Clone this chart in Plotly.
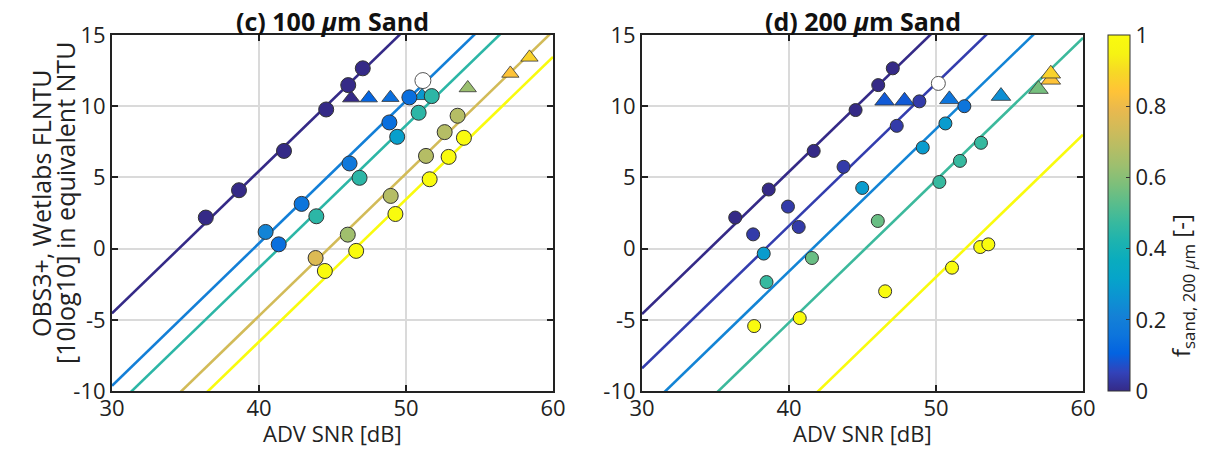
import plotly.graph_objects as go
from plotly.colors import sample_colorscale

# ---------------- data ----------------
# Panel (c) 100 um sand
c_circ_x = [36.38, 38.64, 41.70, 44.57, 46.07, 47.06,
            40.45, 41.34, 42.90, 46.16, 48.87, 49.40, 50.23,
            43.90, 46.84, 50.86, 51.75,
            43.85, 46.04, 48.96, 51.36, 52.63, 53.51,
            44.48, 46.61, 49.28, 51.61, 52.90, 53.94]
c_circ_y = [2.18, 4.10, 6.86, 9.77, 11.48, 12.66,
            1.17, 0.30, 3.14, 5.98, 8.86, 7.85, 10.62,
            2.27, 4.97, 9.54, 10.71,
            -0.66, 0.98, 3.70, 6.51, 8.18, 9.33,
            -1.57, -0.16, 2.43, 4.87, 6.44, 7.78]
c_circ_f = [0, 0, 0, 0, 0, 0,
            0.22, 0.14, 0.16, 0.17, 0.14, 0.30, 0.14,
            0.45, 0.45, 0.45, 0.45,
            0.76, 0.64, 0.68, 0.68, 0.68, 0.68,
            1, 1, 1, 1, 1, 1]
c_tri_x = [46.27, 47.47, 48.94, 51.09, 54.20, 57.10, 58.40]
c_tri_y = [10.57, 10.57, 10.60, 10.73, 11.28, 12.30, 13.43]
c_tri_f = [0.0, 0.11, 0.14, 0.28, 0.63, 0.84, 0.88]
c_open_x = [51.15]
c_open_y = [11.80]
c_line_icpt = [-34.55, -39.63, -41.35, -44.73, -46.54]
c_line_f = [0.0, 0.2, 0.45, 0.74, 1.0]

# Panel (d) 200 um sand
d_circ_x = [36.34, 38.62, 41.68, 44.53, 46.07, 47.06,
            37.56, 39.93, 40.66, 43.71, 47.33, 48.87,
            51.93,
            38.28, 44.98, 49.10, 50.64,
            38.47, 50.23, 51.63, 53.06,
            41.56, 46.04,
            37.63, 40.73, 46.54, 51.09, 53.01, 53.56]
d_circ_y = [2.18, 4.15, 6.86, 9.73, 11.48, 12.66,
            1.00, 2.95, 1.52, 5.74, 8.62, 10.34,
            10.00,
            -0.35, 4.26, 7.10, 8.79,
            -2.35, 4.68, 6.16, 7.43,
            -0.66, 1.94,
            -5.44, -4.88, -3.00, -1.34, 0.11, 0.30]
d_circ_f = [0, 0, 0, 0, 0, 0,
            0.035, 0.035, 0.035, 0.035, 0.035, 0.035,
            0.16,
            0.29, 0.29, 0.29, 0.29,
            0.47, 0.47, 0.47, 0.47,
            0.55, 0.55,
            1, 1, 1, 1, 1, 1]
d_tri_x = [46.50, 47.86, 50.91, 54.42, 56.97, 57.81, 57.81]
d_tri_y = [10.38, 10.38, 10.48, 10.71, 11.20, 11.85, 12.28]
d_tri_f = [0.09, 0.09, 0.16, 0.25, 0.57, 0.84, 0.88]
d_open_x = [50.16]
d_open_y = [11.60]
d_line_icpt = [-34.6, -38.4, -41.6, -45.2, -52.0]
d_line_f = [0.0, 0.04, 0.22, 0.48, 1.0]

x_range = [30, 60]
y_range = [-10, 15]
x_ticks = [30, 40, 50, 60]
y_ticks = [-10, -5, 0, 5, 10, 15]
cb_ticks = [0, 0.2, 0.4, 0.6, 0.8, 1]

# ---------------- style ----------------
parula = [
    (0.2081, 0.1663, 0.5292), (0.1959, 0.2645, 0.7279), (0.0117, 0.3875, 0.8820),
    (0.0498, 0.4586, 0.8641), (0.0779, 0.5040, 0.8384), (0.0488, 0.5772, 0.8228),
    (0.0231, 0.6418, 0.7913), (0.0384, 0.6743, 0.7436), (0.1133, 0.7015, 0.6859),
    (0.2178, 0.7250, 0.6193), (0.3482, 0.7424, 0.5473), (0.4871, 0.7491, 0.4840),
    (0.6099, 0.7473, 0.4337), (0.7184, 0.7411, 0.3905), (0.8185, 0.7327, 0.3498),
    (0.9139, 0.7258, 0.3063), (0.9990, 0.7653, 0.2164), (0.9697, 0.8481, 0.1475),
    (0.9661, 0.9514, 0.0755), (0.9763, 0.9831, 0.0538)]
n = len(parula)
colorscale = [[i / (n - 1), "rgb(%d,%d,%d)" % tuple(int(round(c * 255)) for c in p)]
              for i, p in enumerate(parula)]

FONT = "Open Sans"
OFF = 8                      # page body margin
W, H = 1215 - 2 * OFF, 454 - 2 * OFF


def px(x):
    return (x - OFF) / W


def py(y):
    return 1 - (y - OFF) / H


ydom = [py(391), py(35)]
xdom_c = [px(112), px(553)]
xdom_d = [px(642), px(1083)]

fig = go.Figure()


def add_panel(xa, ya, icpts, lf, cx, cy, cf, tx, ty, tf, ox, oy, csize, tsize, showscale):
    lcols = sample_colorscale(colorscale, lf)
    for c, col in zip(icpts, lcols):
        fig.add_trace(go.Scatter(
            x=x_range, y=[x_range[0] + c, x_range[1] + c], mode="lines",
            line=dict(color=col, width=2.6), xaxis=xa, yaxis=ya,
            showlegend=False, hoverinfo="skip"))
    fig.add_trace(go.Scatter(
        x=ox, y=oy, mode="markers", xaxis=xa, yaxis=ya, showlegend=False,
        marker=dict(symbol="circle", size=csize + 1, color="white",
                    line=dict(color="#555555", width=1))))
    fig.add_trace(go.Scatter(
        x=tx, y=ty, mode="markers", xaxis=xa, yaxis=ya, showlegend=False,
        marker=dict(symbol="triangle-up", size=tsize, color=tf,
                    colorscale=colorscale, cmin=0, cmax=1,
                    line=dict(color="#333333", width=0.8))))
    fig.add_trace(go.Scatter(
        x=cx, y=cy, mode="markers", xaxis=xa, yaxis=ya, showlegend=False,
        marker=dict(symbol="circle", size=csize, color=cf,
                    colorscale=colorscale, cmin=0, cmax=1,
                    showscale=showscale,
                    colorbar=dict(
                        x=px(1108), xanchor="left", xref="paper",
                        y=ydom[1], yanchor="top", len=ydom[1] - ydom[0],
                        lenmode="fraction", thickness=22, thicknessmode="pixels",
                        outlinewidth=1, outlinecolor="#333333",
                        tickvals=cb_ticks, ticktext=[("%g" % v) for v in cb_ticks],
                        ticks="inside", ticklen=4, tickcolor="#333333",
                        tickfont=dict(family=FONT, size=22, color="#222222"),
                        ypad=0, xpad=0),
                    line=dict(color="#333333", width=1))))


add_panel("x", "y", c_line_icpt, c_line_f, c_circ_x, c_circ_y, c_circ_f,
          c_tri_x, c_tri_y, c_tri_f, c_open_x, c_open_y, 15, 15, True)
add_panel("x2", "y2", d_line_icpt, d_line_f, d_circ_x, d_circ_y, d_circ_f,
          d_tri_x, d_tri_y, d_tri_f, d_open_x, d_open_y, 13, 17, False)

ax_common = dict(
    range=x_range, tickvals=x_ticks, ticktext=[str(v) for v in x_ticks],
    showgrid=True, gridcolor="#DADADA", gridwidth=1.5,
    showline=True, linecolor="#222222", linewidth=2, mirror="ticks", automargin=False,
    ticks="inside", ticklen=6, tickwidth=2, tickcolor="#222222", zeroline=False,
    ticklabelstandoff=-3,
    tickfont=dict(family=FONT, size=22, color="#222222"))
ay_common = dict(
    range=y_range, tickvals=y_ticks, ticktext=[str(v) for v in y_ticks],
    showgrid=True, gridcolor="#DADADA", gridwidth=1.5,
    showline=True, linecolor="#222222", linewidth=2, mirror="ticks", automargin=False,
    ticks="inside", ticklen=6, tickwidth=2, tickcolor="#222222", zeroline=False,
    tickfont=dict(family=FONT, size=22, color="#222222"), domain=ydom)


def note(text, x, y, size, angle=0, color="#222222"):
    return dict(text=text, x=x, y=y, xref="paper", yref="paper", showarrow=False,
                textangle=angle, xanchor="center", yanchor="middle",
                font=dict(family=FONT, size=size, color=color))


fig.update_layout(
    width=W, height=H, margin=dict(l=0, r=0, t=0, b=0, autoexpand=False),
    paper_bgcolor="white", plot_bgcolor="white",
    xaxis=dict(ax_common, domain=xdom_c, anchor="y"),
    yaxis=dict(ay_common, anchor="x"),
    xaxis2=dict(ax_common, domain=xdom_d, anchor="y2"),
    yaxis2=dict(ay_common, anchor="x2"),
    annotations=[
        note("<b>(c) 100 <i>μ</i>m Sand</b>", (xdom_c[0] + xdom_c[1]) / 2, py(21), 25, color="#111111"),
        note("<b>(d) 200 <i>μ</i>m Sand</b>", (xdom_d[0] + xdom_d[1]) / 2, py(21), 25, color="#111111"),
        note("ADV SNR [dB]", (xdom_c[0] + xdom_c[1]) / 2, py(433), 22),
        note("ADV SNR [dB]", (xdom_d[0] + xdom_d[1]) / 2, py(433), 22),
        note("OBS3+, Wetlabs FLNTU", px(41), py(203), 25, angle=-90),
        note("[10log10] in equivalent NTU", px(65), py(203), 25, angle=-90),
        note("f<sub>sand, 200 <i>μ</i>m</sub> [-]", px(1182), py(286), 24, angle=-90),
    ],
)

fig.write_html("out.html")
